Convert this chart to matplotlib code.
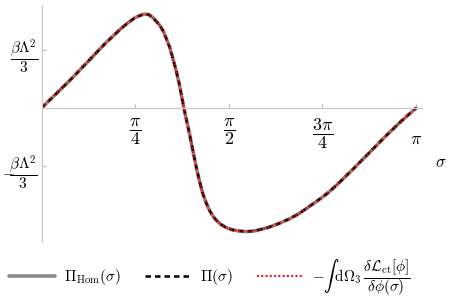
import numpy as np
import matplotlib.pyplot as plt
import matplotlib.transforms as mtransforms

plt.rcParams['mathtext.fontset'] = 'cm'
plt.rcParams['font.family'] = 'serif'
plt.rcParams['font.serif'] = ['DejaVu Serif']

# values (sigma, Pi in units of beta*Lambda^2/3)
sigma = [0.0, 0.12, 0.249, 0.389, 0.528, 0.60, 0.667, 0.72, 0.779, 0.82,
         0.862, 0.90, 0.934, 0.96, 0.99, 1.02, 1.046, 1.075, 1.101, 1.13,
         1.157, 1.20, 1.241, 1.27, 1.297, 1.325, 1.352, 1.38, 1.408, 1.436,
         1.464, 1.50, 1.547, 1.60, 1.658, 1.72, 1.78, 1.826, 1.90, 1.993,
         2.08, 2.16, 2.23, 2.30, 2.36, 2.41, 2.50, 2.605, 2.74, 2.884,
         3.01, np.pi]
pi_vals = [0.0, 0.24, 0.50, 0.80, 1.10, 1.24, 1.37, 1.46, 1.55, 1.59,
           1.62, 1.61, 1.56, 1.50, 1.43, 1.33, 1.20, 1.05, 0.86, 0.64,
           0.40, -0.06, -0.44, -0.74, -1.01, -1.26, -1.47, -1.63, -1.76, -1.86,
           -1.93, -2.00, -2.06, -2.10, -2.12, -2.13, -2.12, -2.10, -2.06, -1.99,
           -1.91, -1.82, -1.72, -1.62, -1.53, -1.45, -1.28, -1.07, -0.79, -0.49,
           -0.24, 0.0]

xticks = [np.pi / 4, np.pi / 2, 3 * np.pi / 4, np.pi]
xlabels = [r'$\dfrac{\pi}{4}$', r'$\dfrac{\pi}{2}$', r'$\dfrac{3\pi}{4}$', r'$\pi$']
yticks = [1, -1]
ylabels = [r'$\dfrac{\beta\Lambda^2}{3}$', r'$-\!\!\dfrac{\beta\Lambda^2}{3}$']

fig = plt.figure(figsize=(4.49, 3.08), dpi=100)
ax = fig.add_axes([41.5 / 449, 66 / 308, 380 / 449, 237 / 308])

s = np.array(sigma)
p = np.array(pi_vals)
ax.plot(s, p, color='#8a8a8a', lw=2.6, solid_capstyle='round',
        label=r'$\Pi_{\mathrm{Hom}}(\sigma)$')
ax.plot(s, p, color='black', lw=1.8, ls=(0, (2.2, 1.6)),
        label=r'$\Pi(\sigma)$')
ax.plot(s, p, color='#ff0000', lw=1.4, ls=(0, (1, 1.2)),
        label=r'$-\int\,\mathrm{d}\Omega_3\,\dfrac{\delta\mathcal{L}_{\mathrm{ct}}[\phi]}{\delta\phi(\sigma)}$')

ax.set_xlim(0, 3.187)
ax.set_ylim(-2.31, 1.776)

for side in ['top', 'right']:
    ax.spines[side].set_visible(False)
ax.spines['bottom'].set_position(('data', 0))
for side in ['left', 'bottom']:
    ax.spines[side].set_color('#cccccc')
    ax.spines[side].set_linewidth(1.0)

ax.set_xticks(xticks, labels=xlabels)
ax.set_yticks(yticks, labels=ylabels)
ax.tick_params(axis='both', direction='in', length=3, color='#bbbbbb')
ax.tick_params(axis='x', pad=6, labelsize=13)
ax.tick_params(axis='y', pad=2.5, labelsize=11)

# lone pi sits lower than the fractions
shift = mtransforms.ScaledTranslation(0, -0.14, fig.dpi_scale_trans)
pi_lbl = ax.get_xticklabels()[-1]
pi_lbl.set_transform(pi_lbl.get_transform() + shift)

ax.set_xlabel(r'$\sigma$', fontsize=12)
ax.xaxis.set_label_coords(1.05, 0.333)
ax.xaxis.label.set_verticalalignment('center')

ax.legend(loc='center', bbox_to_anchor=(0.443, -0.15), ncol=3, frameon=False,
          fontsize=11, handlelength=3.0, columnspacing=1.6, handletextpad=0.6)

fig.savefig('out.png', dpi=100)
